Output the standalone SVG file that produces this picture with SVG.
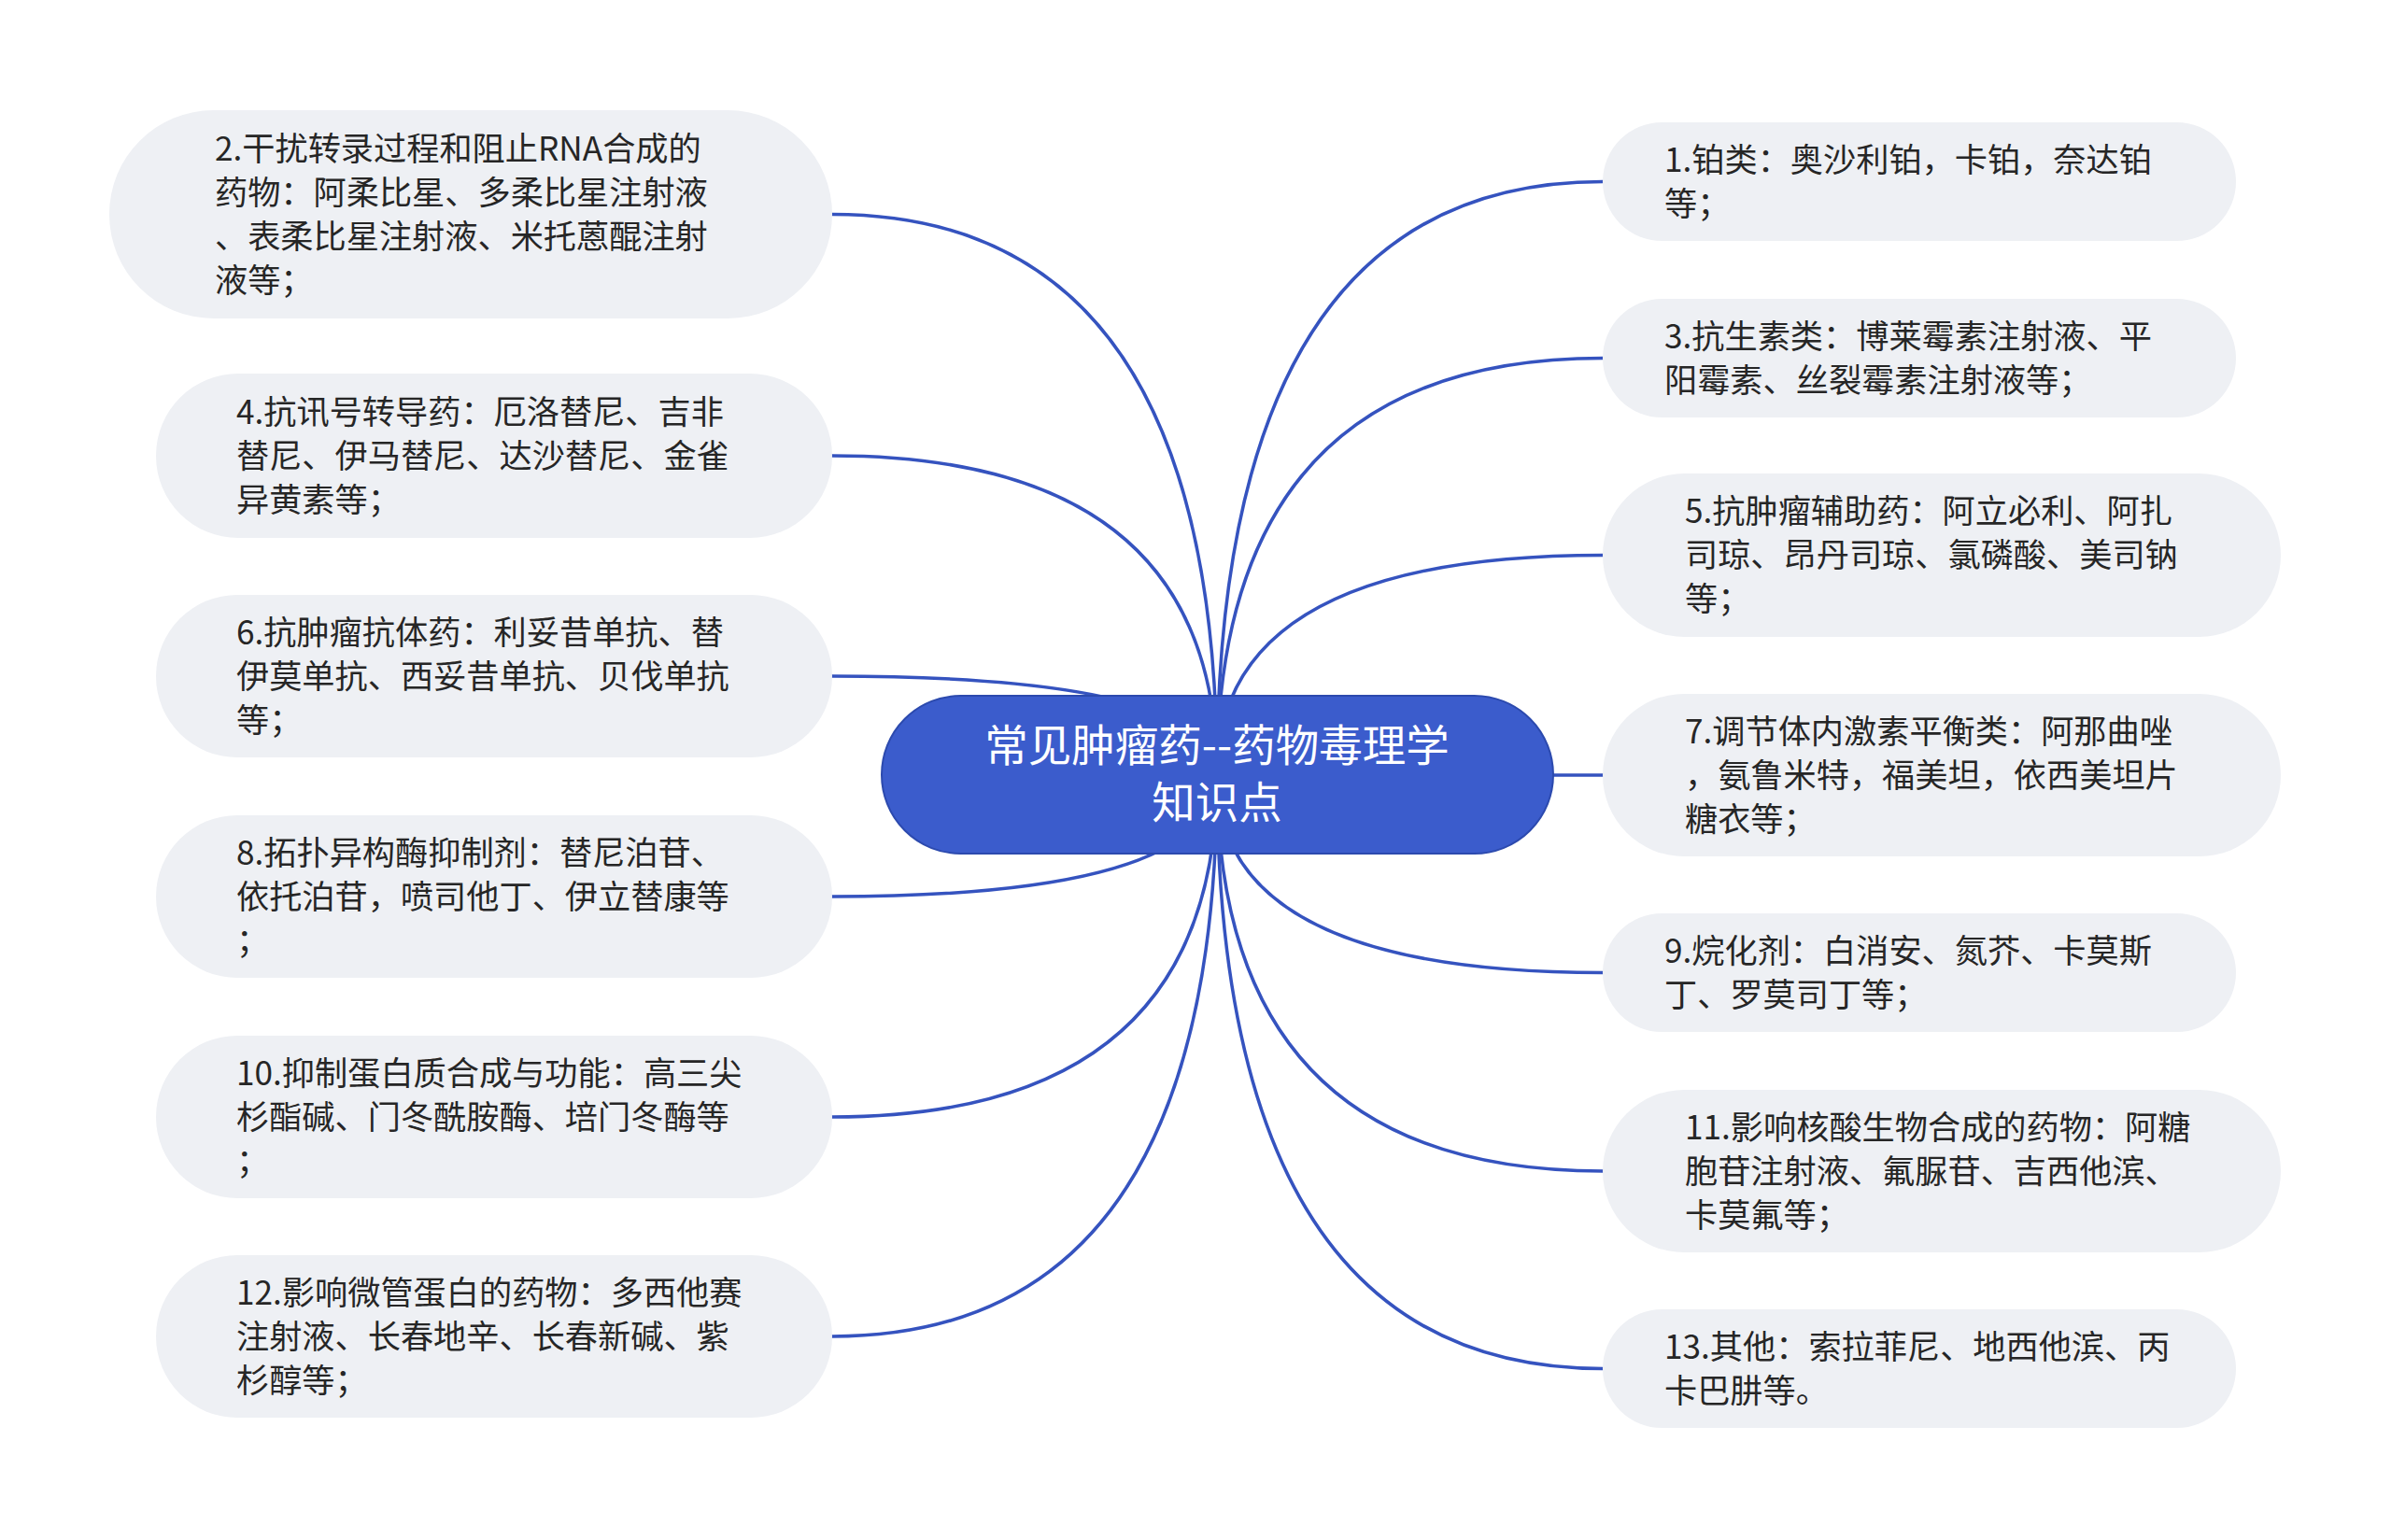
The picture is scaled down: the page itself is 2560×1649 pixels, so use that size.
<svg xmlns="http://www.w3.org/2000/svg" width="2560" height="1649" viewBox="0 0 2560 1649">
<style>
.bg{fill:#ffffff}
.link{fill:none;stroke:#3553bf;stroke-width:3.5;stroke-linecap:round}
.box{fill:#eef0f4}
.root{fill:#3b5ccc;stroke:#2c4aae;stroke-width:2}
.t{font-family:"Noto Sans CJK SC","Noto Sans",sans-serif;font-size:35.2px;fill:#262626}
.rt{font-family:"Noto Sans CJK SC","Noto Sans",sans-serif;font-size:46.5px;fill:#ffffff;text-anchor:middle}
</style>
<rect class="bg" x="0" y="0" width="2560" height="1649"/>
<g id="connectors">
<path class="link" d="M1303 830 Q1303 229.5 891 229.5"/>
<path class="link" d="M1303 830 Q1303 488 891 488"/>
<path class="link" d="M1303 830 Q1303 724 891 724"/>
<path class="link" d="M1303 830 Q1303 960 891 960"/>
<path class="link" d="M1303 830 Q1303 1196 891 1196"/>
<path class="link" d="M1303 830 Q1303 1431 891 1431"/>
<path class="link" d="M1303 830 Q1303 194.5 1716 194.5"/>
<path class="link" d="M1303 830 Q1303 383.5 1716 383.5"/>
<path class="link" d="M1303 830 Q1303 594.5 1716 594.5"/>
<path class="link" d="M1303 830 L1716 830"/>
<path class="link" d="M1303 830 Q1303 1041.5 1716 1041.5"/>
<path class="link" d="M1303 830 Q1303 1254 1716 1254"/>
<path class="link" d="M1303 830 Q1303 1465.5 1716 1465.5"/>
</g>
<g id="root">
<rect class="root" x="944" y="745" width="719" height="169" rx="84.5"/>
<text class="rt"><tspan x="1303" y="815">常见肿瘤药--药物毒理学</tspan><tspan x="1303" y="876">知识点</tspan></text>
</g>
<g id="n2">
<rect class="box" x="117" y="118" width="774" height="223" rx="111.5"/>
<text class="t"><tspan x="230" y="172">2.干扰转录过程和阻止RNA合成的</tspan><tspan x="230" y="219">药物：阿柔比星、多柔比星注射液</tspan><tspan x="230" y="266">、表柔比星注射液、米托蒽醌注射</tspan><tspan x="230" y="313">液等；</tspan></text>
</g>
<g id="n4">
<rect class="box" x="167" y="400" width="724" height="176" rx="88"/>
<text class="t"><tspan x="253" y="454">4.抗讯号转导药：厄洛替尼、吉非</tspan><tspan x="253" y="501">替尼、伊马替尼、达沙替尼、金雀</tspan><tspan x="253" y="548">异黄素等；</tspan></text>
</g>
<g id="n6">
<rect class="box" x="167" y="637" width="724" height="174" rx="87"/>
<text class="t"><tspan x="253" y="690">6.抗肿瘤抗体药：利妥昔单抗、替</tspan><tspan x="253" y="737">伊莫单抗、西妥昔单抗、贝伐单抗</tspan><tspan x="253" y="784">等；</tspan></text>
</g>
<g id="n8">
<rect class="box" x="167" y="873" width="724" height="174" rx="87"/>
<text class="t"><tspan x="253" y="926">8.拓扑异构酶抑制剂：替尼泊苷、</tspan><tspan x="253" y="973">依托泊苷，喷司他丁、伊立替康等</tspan><tspan x="253" y="1020">；</tspan></text>
</g>
<g id="n10">
<rect class="box" x="167" y="1109" width="724" height="174" rx="87"/>
<text class="t"><tspan x="253" y="1162">10.抑制蛋白质合成与功能：高三尖</tspan><tspan x="253" y="1209">杉酯碱、门冬酰胺酶、培门冬酶等</tspan><tspan x="253" y="1256">；</tspan></text>
</g>
<g id="n12">
<rect class="box" x="167" y="1344" width="724" height="174" rx="87"/>
<text class="t"><tspan x="253" y="1397">12.影响微管蛋白的药物：多西他赛</tspan><tspan x="253" y="1444">注射液、长春地辛、长春新碱、紫</tspan><tspan x="253" y="1491">杉醇等；</tspan></text>
</g>
<g id="n1">
<rect class="box" x="1716" y="131" width="678" height="127" rx="63.5"/>
<text class="t"><tspan x="1782" y="184">1.铂类：奥沙利铂，卡铂，奈达铂</tspan><tspan x="1782" y="231">等；</tspan></text>
</g>
<g id="n3">
<rect class="box" x="1716" y="320" width="678" height="127" rx="63.5"/>
<text class="t"><tspan x="1782" y="373">3.抗生素类：博莱霉素注射液、平</tspan><tspan x="1782" y="420">阳霉素、丝裂霉素注射液等；</tspan></text>
</g>
<g id="n5">
<rect class="box" x="1716" y="507" width="726" height="175" rx="87.5"/>
<text class="t"><tspan x="1804" y="560">5.抗肿瘤辅助药：阿立必利、阿扎</tspan><tspan x="1804" y="607">司琼、昂丹司琼、氯磷酸、美司钠</tspan><tspan x="1804" y="654">等；</tspan></text>
</g>
<g id="n7">
<rect class="box" x="1716" y="743" width="726" height="174" rx="87"/>
<text class="t"><tspan x="1804" y="796">7.调节体内激素平衡类：阿那曲唑</tspan><tspan x="1804" y="843">，氨鲁米特，福美坦，依西美坦片</tspan><tspan x="1804" y="890">糖衣等；</tspan></text>
</g>
<g id="n9">
<rect class="box" x="1716" y="978" width="678" height="127" rx="63.5"/>
<text class="t"><tspan x="1782" y="1031">9.烷化剂：白消安、氮芥、卡莫斯</tspan><tspan x="1782" y="1078">丁、罗莫司丁等；</tspan></text>
</g>
<g id="n11">
<rect class="box" x="1716" y="1167" width="726" height="174" rx="87"/>
<text class="t"><tspan x="1804" y="1220">11.影响核酸生物合成的药物：阿糖</tspan><tspan x="1804" y="1267">胞苷注射液、氟脲苷、吉西他滨、</tspan><tspan x="1804" y="1314">卡莫氟等；</tspan></text>
</g>
<g id="n13">
<rect class="box" x="1716" y="1402" width="678" height="127" rx="63.5"/>
<text class="t"><tspan x="1782" y="1455">13.其他：索拉菲尼、地西他滨、丙</tspan><tspan x="1782" y="1502">卡巴肼等。</tspan></text>
</g>
</svg>
